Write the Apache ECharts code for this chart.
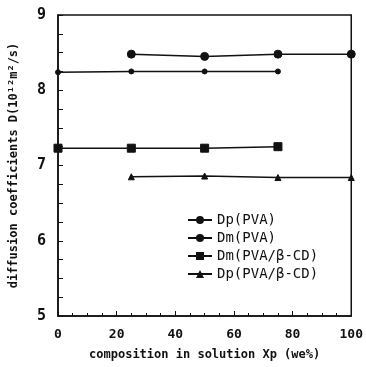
<!DOCTYPE html>
<html>
<head>
<meta charset="utf-8">
<script src="https://cdn.jsdelivr.net/npm/echarts@6/dist/echarts.min.js"></script>
<style>
  html, body { margin: 0; padding: 0; background: #fff; }
  #chart { width: 366px; height: 367px; }
</style>
</head>
<body>
<div id="chart"></div>
<script>
// composition Xp (wt%)
const xDpPVA = [25, 50, 75, 100]
const yDpPVA = [8.48, 8.45, 8.48, 8.48]

const xDmPVA = [0, 25, 50, 75]
const yDmPVA = [8.24, 8.25, 8.25, 8.25]

const xDmCD = [0, 25, 50, 75]
const yDmCD = [7.23, 7.23, 7.23, 7.25]

const xDpCD = [25, 50, 75, 100]
const yDpCD = [6.85, 6.86, 6.84, 6.84]

const seriesNames = ['Dp(PVA)', 'Dm(PVA)', 'Dm(PVA/β-CD)', 'Dp(PVA/β-CD)']

const FONT = 'DejaVu Sans Mono'
const INK = '#111'

const pairs = (xs, ys) => xs.map((x, i) => [x, ys[i]])

const chart = echarts.init(document.getElementById('chart'), null, { renderer: 'canvas' })

function lineSeries(name, data, symbol, size) {
    return {
        name,
        type: 'line',
        data,
        symbol,
        symbolSize: size,
        showSymbol: true,
        lineStyle: { color: INK, width: 1.5 },
        itemStyle: { color: INK, borderColor: INK },
        animation: false,
    }
}

chart.setOption({
    animation: false,
    grid: { left: 57, right: 8, top: 15, bottom: 51, show: true, borderColor: INK, borderWidth: 1.5, backgroundColor: 'transparent' },
    legend: {
        orient: 'vertical',
        left: 182,
        top: 208,
        itemWidth: 24,
        itemHeight: 10,
        itemGap: 4,
        data: seriesNames,
        textStyle: { fontFamily: FONT, fontSize: 14, color: INK },
        inactiveColor: INK,
        selectedMode: false,
    },
    xAxis: {
        type: 'value',
        min: 0,
        max: 100,
        interval: 20,
        name: 'composition in solution Xp (we%)',
        nameLocation: 'middle',
        nameGap: 33,
        nameTextStyle: { fontFamily: FONT, fontSize: 12, fontWeight: 'bold', color: INK },
        axisLine: { show: true, lineStyle: { color: INK, width: 1.5 } },
        axisTick: { show: true, inside: true, length: 5, lineStyle: { color: INK } },
        minorTick: { show: true, splitNumber: 4, length: 3, lineStyle: { color: INK } },
        axisLabel: { fontFamily: FONT, fontSize: 13, fontWeight: 'bold', color: INK, margin: 12 },
        splitLine: { show: false },
    },
    yAxis: {
        type: 'value',
        min: 5,
        max: 9,
        interval: 1,
        name: 'diffusion coefficients D(10¹²m²/s)',
        nameLocation: 'middle',
        nameGap: 38,
        nameTextStyle: { fontFamily: FONT, fontSize: 12, fontWeight: 'bold', color: INK },
        axisLine: { show: true, lineStyle: { color: INK, width: 1.5 } },
        axisTick: { show: true, inside: true, length: 5, lineStyle: { color: INK } },
        minorTick: { show: true, splitNumber: 4, length: 5, lineStyle: { color: INK } },
        axisLabel: { fontFamily: FONT, fontSize: 15, fontWeight: 'bold', color: INK, margin: 12 },
        splitLine: { show: false },
    },
    series: [
        lineSeries(seriesNames[0], pairs(xDpPVA, yDpPVA), 'circle', 8),
        lineSeries(seriesNames[1], pairs(xDmPVA, yDmPVA), 'circle', 5),
        lineSeries(seriesNames[2], pairs(xDmCD, yDmCD), 'rect', 8),
        lineSeries(seriesNames[3], pairs(xDpCD, yDpCD), 'triangle', 6),
    ],
})
</script>
</body>
</html>
